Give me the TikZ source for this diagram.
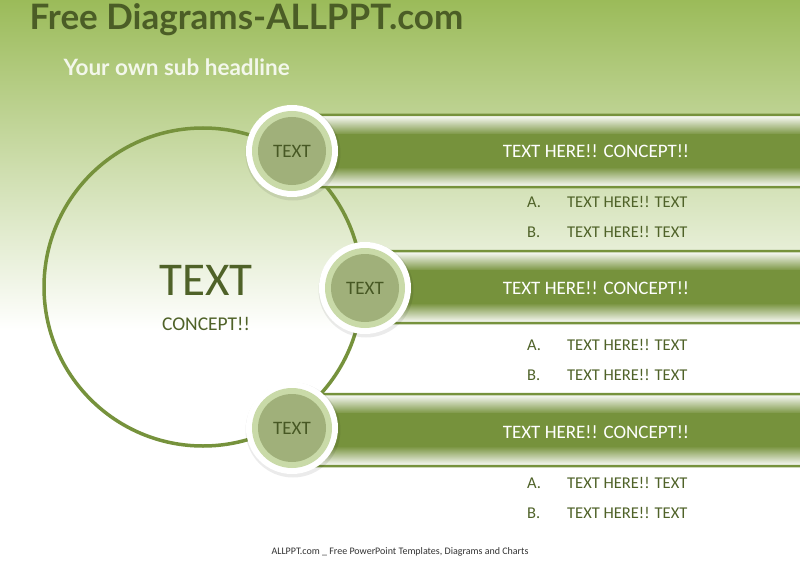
\documentclass[tikz,border=0pt]{standalone}
\usepackage{fontspec}
\setmainfont{Carlito}
\newfontfamily\titlefont{Lato}
\begin{document}
\begin{tikzpicture}[x=1pt,y=-1pt,
  dg/.style={text=dkgreen},
  listtxt/.style={font=\fontsize{16.5}{18}\selectfont,text=dkgreen,anchor=west,inner sep=0},
  bartxt/.style={font=\fontsize{19}{22}\selectfont,text=white},
  smalltxt/.style={font=\fontsize{19}{22}\selectfont,text=dkgreen!90!black}]
\definecolor{dkgreen}{HTML}{4F6228}
\definecolor{mgreen}{HTML}{76923C}
\definecolor{lgreen}{HTML}{C9DAA8}
\definecolor{cgreen}{HTML}{A0B07A}
\definecolor{bgtop}{HTML}{9BBB59}
\useasboundingbox (0,0) rectangle (800,567);
\shade[top color=bgtop,bottom color=white] (0,0) rectangle (800,330);
\fill[white] (0,330) rectangle (800,567);
\node[anchor=west,font=\titlefont\bfseries\fontsize{35}{40}\selectfont,text=dkgreen!95!black] (title) at (26,20) {Free Diagrams-ALLPPT.com};
\node[anchor=west,font=\titlefont\bfseries\fontsize{22.5}{26}\selectfont,text=white!88!bgtop] (sub) at (60,67) {Your own sub headline};
% big circle
\draw[mgreen,line width=3.5pt] (203,287) circle (159);
\node[dg,font=\fontsize{47}{50}\selectfont] (big) at (206,280) {TEXT};
\node[dg,font=\fontsize{19.5}{22}\selectfont] (bigsub) at (206,324) {CONCEPT!!};
% bands
\foreach \cx/\cy in {292/151,365/287,292/430}{
  \begin{scope}
  \clip[rounded corners=10pt] (\cx,\cy-36) rectangle (830,\cy+36);
  \shade[top color=white,bottom color=mgreen] (\cx,\cy-36) rectangle (830,\cy-16);
  \fill[mgreen] (\cx,\cy-17) rectangle (830,\cy+17);
  \shade[top color=mgreen,bottom color=white] (\cx,\cy+16) rectangle (830,\cy+36);
  \end{scope}
  \draw[mgreen,line width=2.5pt,rounded corners=14pt] (830,\cy-36) -- (\cx,\cy-36) -- (\cx,\cy+36) -- (830,\cy+36);
}
\node[bartxt] (b1) at (596,151) {TEXT HERE!! CONCEPT!!};
\node[bartxt] (b2) at (596,288) {TEXT HERE!! CONCEPT!!};
\node[bartxt] (b3) at (596,432) {TEXT HERE!! CONCEPT!!};
% small circles
\foreach \cx/\cy/\n in {292/151/c1,365/288/c2,292/428/c3}{
  \fill[black,opacity=0.08] (\cx+1,\cy+2) circle (47.5);
  \fill[white] (\cx,\cy) circle (46);
  \fill[lgreen] (\cx,\cy) circle (40);
  \fill[cgreen] (\cx,\cy) circle (34);
  \node[smalltxt] (\n) at (\cx,\cy) {TEXT};
}
% lists
\foreach \y in {202,232,345,375,483,513}{\node[listtxt] at (567,\y) {TEXT HERE!! TEXT};}
\foreach \y/\l in {202/A.,232/B.,345/A.,375/B.,483/A.,513/B.}{\node[listtxt] at (527,\y) {\l};}
\node[font=\fontsize{10}{12}\selectfont,text=black!80] (foot) at (400,552) {ALLPPT.com \_ Free PowerPoint Templates, Diagrams and Charts};
\end{tikzpicture}
\end{document}
